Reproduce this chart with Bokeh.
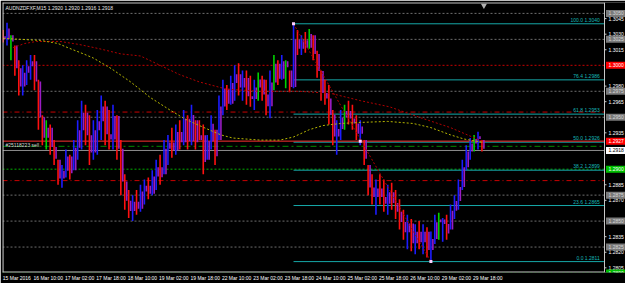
from bokeh.plotting import figure
from bokeh.models import Range1d, FixedTicker
from bokeh.core.properties import value
from bokeh.embed import file_html
from bokeh.resources import INLINE

# ---------------- data ----------------
header = "AUDNZDFXF,M15  1.2920 1.2920 1.2916 1.2918"

# one entry every 2 chart hours
bar_hours = list(range(0, 246, 2))
highs = [1.3034, 1.3041, 1.3029, 1.3019, 1.3005, 1.3000, 1.3005, 1.3010, 1.3010, 1.2986,
         1.2952, 1.2947, 1.2943, 1.2928, 1.2909, 1.2904, 1.2919, 1.2914, 1.2928, 1.2947,
         1.2966, 1.2962, 1.2952, 1.2947, 1.2957, 1.2971, 1.2966, 1.2957, 1.2962, 1.2952,
         1.2928, 1.2895, 1.2880, 1.2875, 1.2880, 1.2885, 1.2890, 1.2892, 1.2899, 1.2909,
         1.2914, 1.2928, 1.2933, 1.2940, 1.2943, 1.2947, 1.2957, 1.2952, 1.2962, 1.2947,
         1.2947, 1.2943, 1.2933, 1.2952, 1.2938, 1.2971, 1.2986, 1.2981, 1.2990, 1.3000,
         1.3002, 1.2995, 1.2995, 1.2990, 1.2986, 1.2993, 1.2990, 1.2986, 1.2995, 1.3010,
         1.3005, 1.3010, 1.3005, 1.2995, 1.3040, 1.3034, 1.3029, 1.3032, 1.3035, 1.3029,
         1.3014, 1.2995, 1.2986, 1.2981, 1.2957, 1.2947, 1.2957, 1.2962, 1.2966, 1.2962,
         1.2952, 1.2947, 1.2928, 1.2904, 1.2895, 1.2890, 1.2895, 1.2890, 1.2885, 1.2887,
         1.2880, 1.2871, 1.2861, 1.2856, 1.2852, 1.2847, 1.2850, 1.2847, 1.2844, 1.2840,
         1.2856, 1.2858, 1.2853, 1.2856, 1.2866, 1.2875, 1.2890, 1.2909, 1.2923, 1.2930,
         1.2933, 1.2936, 1.2928]
lows = [1.3022, 1.3019, 1.3005, 1.2990, 1.2971, 1.2971, 1.2981, 1.2986, 1.2976, 1.2938,
        1.2923, 1.2919, 1.2914, 1.2904, 1.2885, 1.2882, 1.2892, 1.2890, 1.2899, 1.2909,
        1.2919, 1.2923, 1.2904, 1.2909, 1.2914, 1.2928, 1.2923, 1.2919, 1.2919, 1.2909,
        1.2875, 1.2861, 1.2853, 1.2850, 1.2856, 1.2859, 1.2866, 1.2871, 1.2875, 1.2880,
        1.2885, 1.2895, 1.2904, 1.2911, 1.2914, 1.2919, 1.2923, 1.2919, 1.2923, 1.2919,
        1.2928, 1.2895, 1.2909, 1.2919, 1.2904, 1.2928, 1.2952, 1.2957, 1.2962, 1.2966,
        1.2971, 1.2966, 1.2962, 1.2960, 1.2957, 1.2966, 1.2966, 1.2952, 1.2949, 1.2976,
        1.2981, 1.2986, 1.2978, 1.2974, 1.2978, 1.3010, 1.3010, 1.3012, 1.3016, 1.3005,
        1.2988, 1.2966, 1.2962, 1.2943, 1.2923, 1.2914, 1.2928, 1.2938, 1.2943, 1.2938,
        1.2928, 1.2923, 1.2904, 1.2875, 1.2866, 1.2856, 1.2866, 1.2859, 1.2856, 1.2861,
        1.2852, 1.2842, 1.2832, 1.2823, 1.2821, 1.2818, 1.2823, 1.2818, 1.2815, 1.2811,
        1.2828, 1.2832, 1.2830, 1.2832, 1.2842, 1.2852, 1.2861, 1.2880, 1.2899, 1.2909,
        1.2917, 1.2919, 1.2917]
# u = up bar, d = down bar, g = green (up) bar
bar_kinds = ("dugdduuudd" "dgddduuduu" "udduuuddud" "ddduduuduu" "duudududud"
             "dduuduuduu" "duddugddug" "dugdududgd" "ddddduugdd" "duddduddud"
             "dddudududu" "uguduuuuuu" "gud")

# moving averages (chart hour, price)
ma_fast_hours = [0, 9, 19, 28, 33, 41, 46, 55, 65, 75, 85, 93, 100, 111, 117, 131, 141,
                 148, 156, 163, 172, 182, 196, 209, 218, 228, 235, 244]
ma_fast = [1.3026, 1.3025, 1.3024, 1.3021, 1.3017, 1.3011, 1.3007, 1.2997, 1.2984, 1.2969,
           1.2957, 1.2948, 1.2942, 1.2933, 1.2930, 1.2928, 1.2928, 1.2931, 1.2938, 1.2942,
           1.2944, 1.2945, 1.2946, 1.2944, 1.2940, 1.2933, 1.2929, 1.2926]
ma_slow_hours = [5, 11, 17, 29, 39, 49, 60, 70, 80, 90, 100, 114, 131, 151, 167, 182, 197,
                 212, 228, 244]
ma_slow = [1.3017, 1.3021, 1.3023, 1.3023, 1.3020, 1.3016, 1.3011, 1.3009, 1.3000, 1.2991,
           1.2984, 1.2977, 1.2975, 1.2975, 1.2973, 1.2966, 1.2960, 1.2950, 1.2940, 1.2927]

# fibonacci retracement
fib_ratios = ["0.0", "23.6", "38.2", "50.0", "61.8", "76.4", "100.0"]
fib_prices = [1.2811, 1.2865, 1.2899, 1.2926, 1.2953, 1.2986, 1.3040]
fib_high_hour, fib_low_hour = 148, 218
order_hour, order_price = 182, 1.2927

# horizontal line objects
grey_levels = [1.3050, 1.3025, 1.2975, 1.2950, 1.2875, 1.2850, 1.2825]
red_dot_level = 1.3000
red_dashdot_levels = [1.2955, 1.2889]
sell_level = 1.2927
green_dashdot_level = 1.2922
bid_level = 1.2918
green_dot_levels = [1.2900, 1.2800]
sell_label = "#25118223 sell"

# axes
y_ticks = [1.3045, 1.3030, 1.3015, 1.2980, 1.2965, 1.2935, 1.2885, 1.2870, 1.2835, 1.2820, 1.2805]
x_tick_hours = [0, 16, 32, 48, 64, 80, 96, 112, 128, 144, 160, 176, 192, 208, 224, 240]
x_tick_labels = ["15 Mar 2016", "16 Mar 10:00", "17 Mar 02:00", "17 Mar 18:00", "18 Mar 10:00",
                 "19 Mar 02:00", "19 Mar 18:00", "22 Mar 10:00", "23 Mar 02:00", "23 Mar 18:00",
                 "24 Mar 10:00", "25 Mar 02:00", "25 Mar 18:00", "26 Mar 10:00", "29 Mar 02:00",
                 "29 Mar 18:00"]

# ---------------- figure ----------------
PX_PER_HOUR = 1.9625
X0 = -0.3
X_EDGE = X0 + 602 / PX_PER_HOUR      # right border of the chart area
X1 = X0 + 623 / PX_PER_HOUR          # includes the price scale strip
Y0, Y1 = 1.28005, 1.30605
FONT = "Liberation Sans"
BORDER = "#c8c8c8"
PX_Y = (Y1 - Y0) / 271.0

p = figure(width=625, height=283, x_range=Range1d(X0, X1), y_range=Range1d(Y0, Y1),
           output_backend="svg", toolbar_location=None,
           min_border_left=2, min_border_right=0, min_border_top=2, min_border_bottom=10,
           background_fill_color="black", border_fill_color="black")
p.grid.visible = False
p.outline_line_color = None
p.yaxis.visible = False

LABEL_SHIFT = 7  # labels start at their time, Bokeh centres them
xa = p.xaxis[0]
xa.ticker = FixedTicker(ticks=[h + LABEL_SHIFT for h in x_tick_hours])
xa.major_label_overrides = {h + LABEL_SHIFT: s for h, s in zip(x_tick_hours, x_tick_labels)}
xa.major_label_text_font = FONT
xa.major_label_text_font_size = "5px"
xa.major_label_text_color = "#ffffff"
xa.major_tick_out = 0
xa.major_tick_in = 0
xa.minor_tick_out = 0
xa.minor_tick_in = 0
xa.major_label_standoff = 2
xa.axis_line_color = None

# horizontal lines
def hline(price, color, dash="solid", start=X0, width=1):
    p.segment(x0=[start], y0=[price], x1=[X_EDGE], y1=[price], line_color=color,
              line_dash=dash, line_width=width)

for lv in grey_levels:
    hline(lv, "#6e6e6e", "2 2")
hline(red_dot_level, "#c80000", "2 2")
for lv in red_dashdot_levels:
    hline(lv, "#c80000", "5 3 1 3")
for lv in green_dot_levels:
    hline(lv, "#00b000", "2 2")
hline(green_dashdot_level, "#008a00", "6 3 2 3")
hline(bid_level, "#8c8c8c")

# fibonacci levels
for pr in fib_prices:
    hline(pr, "#16a8a8", "solid", start=fib_high_hour)
hline(sell_level, "#ff3030")

# bars
colors = {"u": "#1c1cff", "d": "#ff1010", "g": "#00d200"}
bar_cols, opens, closes = [], [], []
prev = None
for hi, lo, k in zip(highs, lows, bar_kinds):
    rng = hi - lo
    c = hi - 0.25 * rng if k in "ug" else lo + 0.25 * rng
    o = (hi + lo) / 2 if prev is None else min(max(prev, lo), hi)
    opens.append(o)
    closes.append(c)
    bar_cols.append(colors[k])
    prev = c
n = len(bar_cols)
p.segment(x0=bar_hours[:n], y0=lows[:n], x1=bar_hours[:n], y1=highs[:n],
          line_color=bar_cols, line_width=1.6)
body_x = [h + 1 for h in bar_hours[:n]]
p.segment(x0=body_x, y0=opens, x1=body_x, y1=closes, line_color="#9a1cc4", line_width=1.6)

# moving averages
p.line(ma_slow_hours, ma_slow, line_color="#b00000", line_dash="2 2", line_width=1)
p.line(ma_fast_hours, ma_fast, line_color="#b4b400", line_dash="2 2", line_width=1)

# fib trend line and anchors
p.line([fib_high_hour, fib_low_hour], [fib_prices[-1], fib_prices[0]],
       line_color="#b00000", line_dash="2 2", line_width=1)
p.scatter([fib_high_hour, fib_low_hour, order_hour], [fib_prices[-1], fib_prices[0], order_price],
          marker="square", size=3, fill_color="#ffd0ff", line_color=None)
p.scatter([bar_hours[n - 1] + 1], [Y1 - 3 * PX_Y], marker="inverted_triangle", size=6,
          fill_color="#b0b0b0", line_color=None)

# chart border
p.segment(x0=[X0 + 0.3, X0, X0, X_EDGE], y0=[Y0, Y1 - 0.5 * PX_Y, Y0 + 0.5 * PX_Y, Y0],
          x1=[X0 + 0.3, X_EDGE, X_EDGE, X_EDGE], y1=[Y1, Y1 - 0.5 * PX_Y, Y0 + 0.5 * PX_Y, Y1],
          line_color=BORDER, line_width=1)

# texts inside chart
p.text(x=[X_EDGE] * len(fib_prices), y=fib_prices,
       text=[f"{r}   {v:.4f}" for r, v in zip(fib_ratios, fib_prices)],
       text_font=value(FONT), text_font_size="5px", text_color="#16b8b8",
       text_align="right", text_baseline="bottom", x_offset=-2, y_offset=-1)
p.text(x=[X0], y=[Y1], text=[header], text_font=value(FONT), text_font_size="5px",
       text_color="#e8e8e8", text_baseline="top", x_offset=3, y_offset=2)
p.text(x=[X0], y=[sell_level], text=[sell_label], text_font=value(FONT), text_font_size="5px",
       text_color="#d8d8d8", text_baseline="top", x_offset=3, y_offset=1)

# price scale: tick marks and labels
TICK_LEN = 2 / PX_PER_HOUR
p.segment(x0=[X_EDGE] * len(y_ticks), y0=y_ticks, x1=[X_EDGE + TICK_LEN] * len(y_ticks),
          y1=y_ticks, line_color=BORDER, line_width=1)
p.text(x=[X_EDGE] * len(y_ticks), y=y_ticks, text=[f"{v:.4f}" for v in y_ticks],
       text_font=value(FONT), text_font_size="5px", text_color="#ffffff",
       text_align="left", text_baseline="middle", x_offset=4)

# price tags of the line objects
tag_prices, tag_bg, tag_fg = [], [], []
for lv in grey_levels:
    tag_prices.append(lv); tag_bg.append("#7a7a7a"); tag_fg.append("#d8d8d8")
for lv, bg, fg in [(red_dot_level, "#ff0000", "#ffffff"), (sell_level, "#ff0000", "#ffffff"),
                   (bid_level, "#ffffff", "#000000")]:
    tag_prices.append(lv); tag_bg.append(bg); tag_fg.append(fg)
for lv in green_dot_levels:
    tag_prices.append(lv); tag_bg.append("#00c000"); tag_fg.append("#ffffff")
TAG_X = X_EDGE + 11 / PX_PER_HOUR
p.rect(x=[TAG_X] * len(tag_prices), y=tag_prices, width=19, height=7,
       width_units="screen", height_units="screen", fill_color=tag_bg, line_color=None)
p.text(x=[X_EDGE] * len(tag_prices), y=tag_prices, text=[f"{v:.4f}" for v in tag_prices],
       text_font=value(FONT), text_font_size="5px", text_color=tag_fg,
       text_align="left", text_baseline="middle", x_offset=4)

open("out.html", "w").write(file_html(p, INLINE))
